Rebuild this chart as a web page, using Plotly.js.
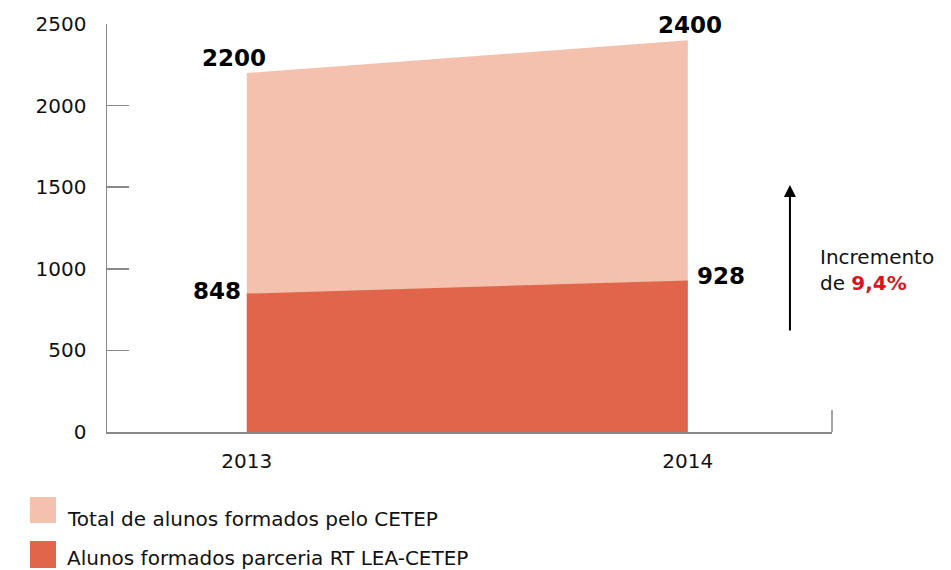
<!DOCTYPE html>
<html><head><meta charset="utf-8">
<script src="https://cdn.plot.ly/plotly-3.0.1.min.js"></script>
<style>body{margin:0;background:#fff}#chart{width:951px;height:570px}</style>
</head><body><div id="chart"></div>
<script>
const years = [2013, 2014];
const totalValues = [2200, 2400];
const partnerValues = [848, 928];
const seriesNames = ['Total de alunos formados pelo CETEP', 'Alunos formados parceria RT LEA-CETEP'];
const yTicks = [0, 500, 1000, 1500, 2000, 2500];
const growthText = 'Incremento<br>de <b><span style="color:#d7151f">9,4%</span></b>';

const lightColor = '#F3C1AD';
const darkColor = '#E0654A';
const axisColor = '#888888';
const font = 'DejaVu Sans, sans-serif';

const traces = [
  {x: years, y: totalValues, type: 'scatter', mode: 'lines', fill: 'tozeroy',
   fillcolor: lightColor, line: {width: 0, color: lightColor}, name: seriesNames[0], hoverinfo: 'skip'},
  {x: years, y: partnerValues, type: 'scatter', mode: 'lines', fill: 'tozeroy',
   fillcolor: darkColor, line: {width: 0, color: darkColor}, name: seriesNames[1], hoverinfo: 'skip'}
];

const labelFont = {family: font, size: 23, color: '#000'};
const textFont = {family: font, size: 20, color: '#111'};
const annotations = [
  {x: years[0], y: totalValues[0], text: '<b>' + totalValues[0] + '</b>', showarrow: false,
   xanchor: 'right', yanchor: 'bottom', xshift: 21, yshift: 0, font: labelFont},
  {x: years[1], y: totalValues[1], text: '<b>' + totalValues[1] + '</b>', showarrow: false,
   xanchor: 'center', yanchor: 'bottom', xshift: 2, yshift: 0, font: labelFont},
  {x: years[0], y: partnerValues[0], text: '<b>' + partnerValues[0] + '</b>', showarrow: false,
   xanchor: 'right', yanchor: 'middle', xshift: -4, yshift: 3, font: labelFont},
  {x: years[1], y: partnerValues[1], text: '<b>' + partnerValues[1] + '</b>', showarrow: false,
   xanchor: 'left', yanchor: 'middle', xshift: 7, yshift: 5, font: labelFont},
  {xref: 'paper', yref: 'y', x: 0.942, y: 1513, ax: 0, ay: 147, text: '', showarrow: true,
   arrowhead: 2, arrowsize: 1.2, arrowwidth: 2, arrowcolor: '#000'},
  {xref: 'paper', yref: 'y', x: 0.981, y: 992, text: growthText, showarrow: false,
   xanchor: 'left', yanchor: 'middle', align: 'left', font: textFont},
  {xref: 'paper', yref: 'paper', x: -0.0579, y: -0.213, text: seriesNames[0], showarrow: false,
   xanchor: 'left', yanchor: 'middle', font: textFont},
  {xref: 'paper', yref: 'paper', x: -0.0579, y: -0.308, text: seriesNames[1], showarrow: false,
   xanchor: 'left', yanchor: 'middle', font: textFont}
];

const shapes = [
  {type: 'line', xref: 'paper', yref: 'paper', x0: 1, x1: 1, y0: 0, y1: 0.054,
   line: {color: axisColor, width: 1.5}},
  {type: 'rect', xref: 'paper', yref: 'paper', x0: -0.1062, x1: -0.0703, y0: -0.1593, y1: -0.2230,
   fillcolor: lightColor, line: {width: 0}},
  {type: 'rect', xref: 'paper', yref: 'paper', x0: -0.1062, x1: -0.0703, y0: -0.2672, y1: -0.3333,
   fillcolor: darkColor, line: {width: 0}}
];

const tickFont = {family: font, size: 20, color: '#111'};
const layout = {
  width: 951, height: 570,
  margin: {l: 107, r: 119, t: 24, b: 138},
  paper_bgcolor: '#fff', plot_bgcolor: '#fff',
  showlegend: false,
  font: {family: font, size: 20, color: '#111'},
  xaxis: {range: [2012.683, 2014.327], tickvals: years, ticktext: years.map(String),
    showgrid: false, zeroline: false, showline: true, linecolor: axisColor, linewidth: 1.5,
    ticks: '', ticklabelstandoff: 10, tickfont: tickFont},
  yaxis: {range: [0, 2500], tickvals: yTicks, showgrid: false, zeroline: false,
    showline: true, linecolor: axisColor, linewidth: 1.5, ticks: 'inside', ticklen: 22,
    tickcolor: axisColor, tickwidth: 1.5, ticklabelstandoff: 15, tickfont: tickFont},
  annotations: annotations,
  shapes: shapes
};

Plotly.newPlot('chart', traces, layout, {displayModeBar: false, staticPlot: true});
</script>
</body></html>
